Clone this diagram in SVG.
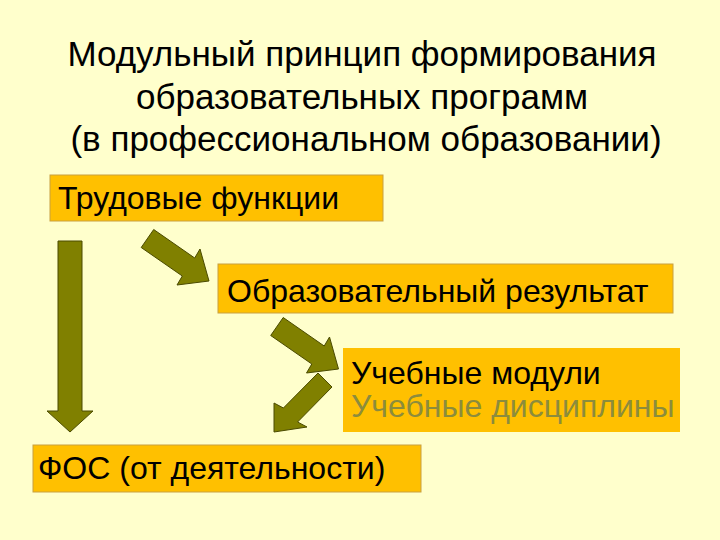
<svg xmlns="http://www.w3.org/2000/svg" width="720" height="540" viewBox="0 0 720 540">
<style>
.t{font-family:"Liberation Sans",Arial,sans-serif;fill:#000}
.title{font-size:35px;text-anchor:middle}
.bt{font-size:32px}
.box{fill:#FFC000;stroke:#C8A040;stroke-width:1}
.arr{fill:#808000;stroke:#4A4A00;stroke-width:1}
</style>
<rect width="720" height="540" fill="#FFFFCC"/>
<g id="title">
<text class="t title" x="362" y="66">Модульный принцип формирования</text>
<text class="t title" x="362" y="109">образовательных программ</text>
<text class="t title" x="366" y="151">(в профессиональном образовании)</text>
</g>
<g id="connectors">
<polygon class="arr" points="58,241 82,241 82,411 93,411 70,432 47,411 58,411"/>
<polygon id="a1" class="arr" points="153.7,229.5 194.7,258 200,249 209,281 177,285 182.3,276 141.2,247.5"/>
<polygon class="arr" transform="translate(129.5,88)" points="153.7,229.5 194.7,258 200,249 209,281 177,285 182.3,276 141.2,247.5"/>
</g>
<g id="n1"><rect class="box" x="50" y="175" width="333" height="46"/><text class="t bt" x="58" y="209">Трудовые функции</text></g>
<g id="n2"><rect class="box" x="218" y="264" width="455" height="49"/><text class="t bt" x="227" y="302">Образовательный результат</text></g>
<g id="n3"><rect class="box" x="343" y="348" width="337" height="84" style="stroke:none"/><text class="t bt" x="351" y="384">Учебные модули</text><text class="t bt" x="351" y="417" style="fill:#8C8C3C">Учебные дисциплины</text></g>
<g id="connectors2"><polygon class="arr" points="318,373 332,387 297.6,422 307,427 274,432 274,403 283.4,408"/></g>
<g id="n4"><rect class="box" x="33" y="445" width="388" height="47"/><text class="t bt" x="38" y="479">ФОС (от деятельности)</text></g>
</svg>
